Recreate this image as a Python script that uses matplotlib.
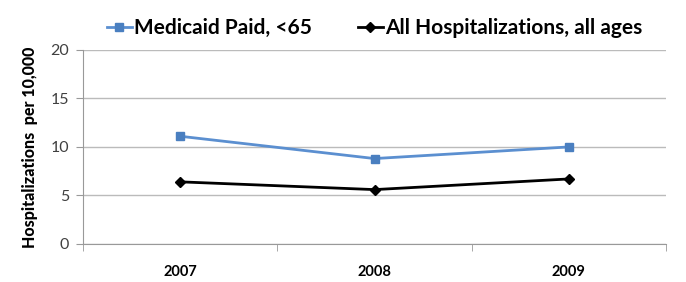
import matplotlib
matplotlib.use("Agg")
import matplotlib.pyplot as plt
import numpy as np

years = ["2007", "2008", "2009"]
medicaid = [11.1, 8.8, 10.0]
all_hosp = [6.4, 5.6, 6.7]
yticks = [0, 5, 10, 15, 20]

plt.rcParams['font.family'] = ['Lato', 'DejaVu Sans']

fig = plt.figure(figsize=(6.86, 2.82), dpi=100)
ax = fig.add_axes([0.121, 0.135, 0.850, 0.688])

x = np.arange(len(years))
ax.plot(x, medicaid, color="#5b8fd0", marker="s", markersize=6, linewidth=2,
        markerfacecolor="#4a7fc0", markeredgecolor="#4a7fc0", label="Medicaid Paid, <65")
ax.plot(x, all_hosp, color="black", marker="D", markersize=5.5, linewidth=2,
        label="All Hospitalizations, all ages")

ax.set_xlim(-0.5, 2.5)
ax.set_ylim(0, 20)
ax.set_yticks(yticks)
ax.set_yticklabels([str(v) for v in yticks], fontsize=11.5, color="#404040")
ax.set_xticks(x)
ax.set_xticklabels(years, fontsize=10.5, fontweight="bold")
ax.tick_params(axis="x", which="major", length=0, pad=15)
ax.set_xticks([-0.5, 0.5, 1.5, 2.5], minor=True)
ax.tick_params(axis="x", which="minor", length=5, color="#999999", direction="out")
ax.tick_params(axis="y", length=5, color="#999999", direction="out", pad=5)

ax.grid(axis="y", color="#bbbbbb", linewidth=1)
ax.set_axisbelow(True)
for s in ["top", "right"]:
    ax.spines[s].set_visible(False)
ax.spines["left"].set_color("#999999")
ax.spines["bottom"].set_color("#999999")

ax.set_ylabel("Hospitalizations  per 10,000", fontsize=11.5, fontweight="black", labelpad=9)

ax.legend(loc="lower center", bbox_to_anchor=(0.5, 1.0), ncol=2, frameon=False,
          prop={"size": 15, "weight": "bold"}, handlelength=1.2, handletextpad=0.1,
          columnspacing=2.2, borderaxespad=0.15)

fig.savefig("out.png", dpi=100)
